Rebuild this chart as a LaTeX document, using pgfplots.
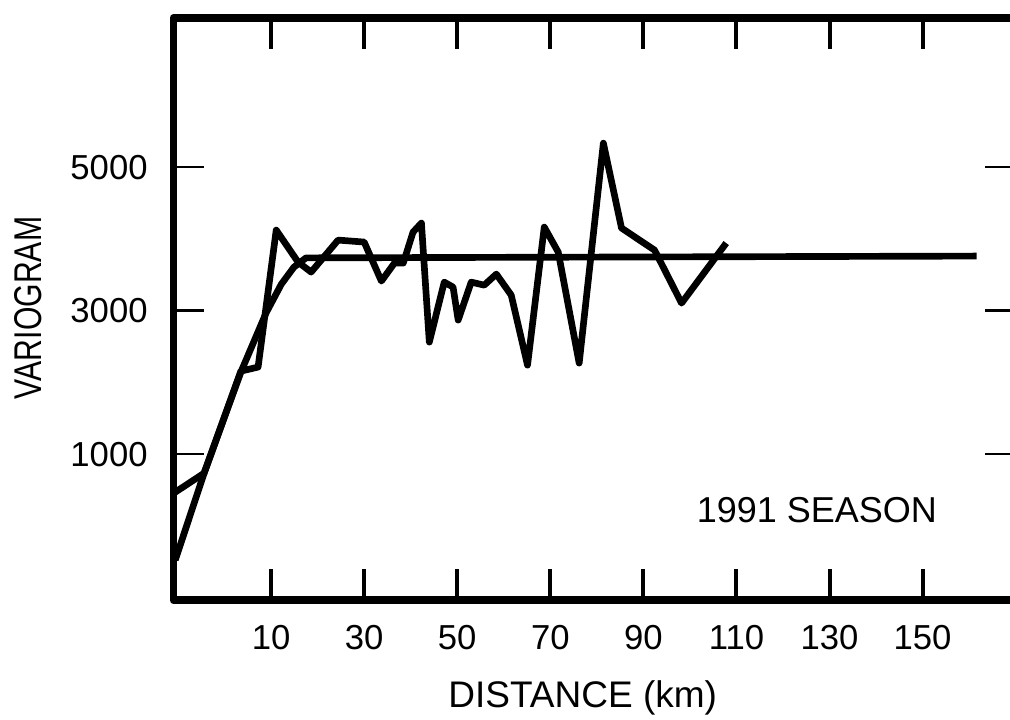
\documentclass[border=0pt]{standalone}
\usepackage{fontspec}
\setmainfont{Liberation Sans}
\usepackage{pgfplots}
\pgfplotsset{compat=1.18}
\begin{document}
\begin{tikzpicture}
\begin{axis}[
  scale only axis,
  width=252.6pt, height=174.6pt,
  xmin=-11, xmax=170, ymin=-1035, ymax=7077,
  xtick={10,30,50,70,90,110,130,150},
  ytick={1000,3000,5000},
  tick align=inside,
  major tick length=9.3pt,
  axis line style={line width=2.3pt, line join=round},
  xtick style={line width=1.2pt, black},
  ytick style={line width=0.7pt, black},
  /pgf/number format/assume math mode=true,
  /pgf/number format/1000 sep={},
  xticklabel style={font=\fontsize{10.4}{12}\selectfont, yshift=-4pt},
  yticklabel style={font=\fontsize{10.4}{12}\selectfont, xshift=-4.2pt},
  xlabel={DISTANCE (km)},
  ylabel={\scalebox{0.78}[1]{VARIOGRAM}},
  xlabel style={font=\fontsize{11.1}{13}\selectfont, at={(axis description cs:0.486,-0.168)}, anchor=center},
  ylabel style={font=\fontsize{11.6}{13}\selectfont, at={(axis description cs:-0.172,0.502)}, anchor=center},
]
% experimental variogram
\addplot[black, line width=2.0pt, line join=round, mark=none] coordinates {
(-10.6,470) (-4.4,735) (3.5,2157) (7.2,2213) (11.1,4122) (15.8,3676)
(18.6,3537) (24.4,3983) (30.0,3955) (33.7,3411) (36.5,3662) (38.4,3662)
(40.5,4094) (42.3,4220) (44.0,2561) (47.2,3397) (49.1,3328) (50.2,2868)
(53.0,3397) (55.8,3355) (58.4,3509) (61.6,3216) (65.1,2240) (68.7,4164)
(71.7,3815) (76.2,2268) (81.4,5334) (85.3,4150) (92.4,3843) (98.2,3104)
(107.8,3941)
};
% spherical model
\addplot[black, line width=2.0pt, line join=round, mark=none] coordinates {
(-10.6,-477) (-4.4,735) (3.5,2143) (6.8,2645) (8.9,2965) (12.2,3369)
(14.9,3606) (17.5,3735) (161.6,3760)
};
\node[font=\fontsize{10.8}{13}\selectfont, anchor=center] at (axis description cs:0.764,0.155) {1991 SEASON};
\end{axis}
\pgfresetboundingbox
\path ([shift={(-52.0pt,-35.7pt)}]current axis.south west) rectangle ([shift={(-1.7pt,5.4pt)}]current axis.north east);
\end{tikzpicture}
\end{document}
